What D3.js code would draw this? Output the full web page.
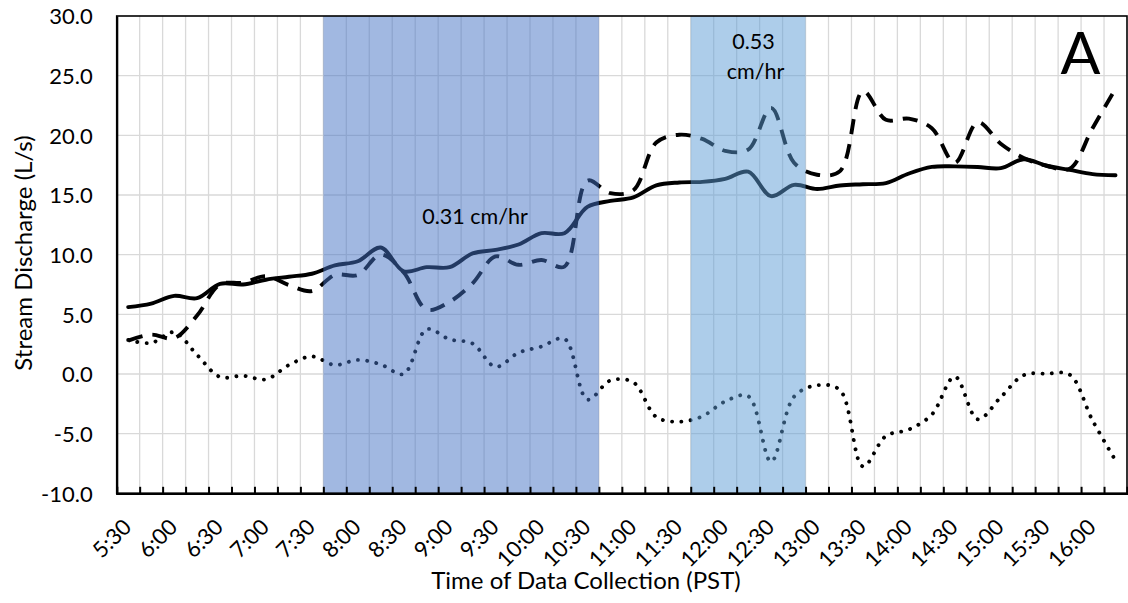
<!DOCTYPE html>
<html>
<head>
<meta charset="utf-8">
<script src="https://cdn.jsdelivr.net/npm/d3@7"></script>
<style>
  html, body { margin: 0; padding: 0; background: #fff; }
  svg { display: block; font-family: Lato, "Open Sans", sans-serif; }
</style>
</head>
<body>
<svg id="chart" width="1128" height="603"></svg>
<script>
// 15-minute sampling times (PST)
const times = [
  "5:30","5:45","6:00","6:15","6:30","6:45","7:00","7:15","7:30","7:45",
  "8:00","8:15","8:30","8:45","9:00","9:15","9:30","9:45","10:00","10:15",
  "10:30","10:45","11:00","11:15","11:30","11:45","12:00","12:15","12:30","12:45",
  "13:00","13:15","13:30","13:45","14:00","14:15","14:30","14:45","15:00","15:15",
  "15:30","15:45","16:00","16:15"
];

// Measured stream discharge (L/s), solid line
const measuredQ = [
  5.6, 5.9, 6.55, 6.35, 7.55, 7.5, 7.9, 8.15, 8.4, 9.1,
  9.45, 10.6, 8.6, 8.95, 8.95, 10.1, 10.4, 10.85, 11.8, 11.8,
  14.0, 14.5, 14.8, 15.8, 16.05, 16.1, 16.35, 16.95, 14.9, 15.85,
  15.5, 15.8, 15.9, 16.0, 16.8, 17.35, 17.4, 17.35, 17.25, 18.0,
  17.45, 17.1, 16.75, 16.65
];

// Modelled stream discharge (L/s), dashed line
const modelledQ = [
  2.8, 3.3, 3.0, 4.9, 7.5, 7.65, 8.2, 7.45, 6.95, 8.3,
  8.3, 10.0, 8.5, 5.4, 6.05, 7.6, 9.85, 9.15, 9.55, 9.0,
  16.2, 15.15, 15.4, 19.4, 20.05, 19.7, 18.7, 18.8, 22.3, 17.7,
  16.7, 17.0, 23.7, 21.3, 21.4, 20.6, 17.7, 21.1, 19.3, 18.1,
  17.45, 17.2, 20.6, 23.9
];

// Residual (L/s), dotted line
const residualQ = [
  2.85, 2.6, 3.5, 1.6, -0.25, -0.15, -0.45, 0.75, 1.47, 0.75,
  1.18, 0.8, 0.0, 3.75, 2.9, 2.55, 0.6, 1.78, 2.3, 2.95,
  -2.15, -0.55, -0.7, -3.6, -4.0, -3.55, -2.3, -1.85, -7.35, -1.9,
  -0.95, -1.35, -7.75, -5.2, -4.65, -3.4, -0.22, -3.8, -1.95, -0.1,
  0.02, -0.05, -3.9, -7.25
];

// Rainfall periods and intensities
const rainStart = ["7:45", "11:45"];
const rainEnd   = ["10:30", "12:45"];
const rainRate  = [["0.31 cm/hr"], ["0.53", "cm/hr"]];
const rainFill  = ["#4472C4", "#5B9BD5"];

const yTicks = [-10, -5, 0, 5, 10, 15, 20, 25, 30];

const plot = { left: 116.7, right: 1127, top: 16, bottom: 493.3 };
const FONT = "Lato, sans-serif";

const svg = d3.select("#chart");

const x = d3.scaleBand().domain(times).range([plot.left, plot.right]).padding(0);
const xEdge = d3.scaleLinear().domain([0, times.length]).range([plot.left, plot.right]);
const y = d3.scaleLinear().domain([-10, 30]).range([plot.bottom, plot.top]);
const xc = t => x(t) + x.bandwidth() / 2;

// Gridlines
const grid = svg.append("g").attr("stroke", "#d9d9d9").attr("stroke-width", 1.3);
grid.selectAll("line.v").data(d3.range(1, times.length)).join("line")
  .attr("x1", d => xEdge(d)).attr("x2", d => xEdge(d))
  .attr("y1", plot.top).attr("y2", plot.bottom);
grid.selectAll("line.h").data(yTicks.slice(1, -1)).join("line")
  .attr("x1", plot.left).attr("x2", plot.right)
  .attr("y1", d => y(d)).attr("y2", d => y(d));

// Series
const line = d3.line().x((d, i) => xc(times[i])).y(d => y(d)).curve(d3.curveCatmullRom.alpha(0.5));
const series = [
  { values: measuredQ, dash: null, cap: "round" },
  { values: modelledQ, dash: "15,10", cap: "butt" },
  { values: residualQ, dash: "0.01,9.3", cap: "round" }
];
svg.append("g").selectAll("path").data(series).join("path")
  .attr("d", s => line(s.values))
  .attr("fill", "none")
  .attr("stroke", "#000")
  .attr("stroke-width", 3.9)
  .attr("stroke-linecap", s => s.cap)
  .attr("stroke-linejoin", "round")
  .attr("stroke-dasharray", s => s.dash);

// Rainfall shading
svg.append("g").selectAll("rect").data(rainStart).join("rect")
  .attr("x", d => x(d))
  .attr("width", (d, i) => x(rainEnd[i]) + x.bandwidth() - x(d))
  .attr("y", plot.top)
  .attr("height", plot.bottom - plot.top)
  .attr("fill", (d, i) => rainFill[i])
  .attr("fill-opacity", 0.5);

// Rain intensity labels
const noteGroup = svg.append("g").attr("font-size", 21.5).attr("fill", "#000").attr("text-anchor", "middle");
noteGroup.append("text").attr("x", 475).attr("y", 224).text(rainRate[0][0]);
const n2 = noteGroup.append("text").attr("x", 754).attr("y", 48.5);
n2.append("tspan").attr("x", 753.5).text(rainRate[1][0]);
n2.append("tspan").attr("x", 755.5).attr("dy", 30).text(rainRate[1][1]);

// Panel letter
svg.append("text").attr("x", 1080.5).attr("y", 74).attr("text-anchor", "middle")
  .attr("font-size", 59).text("A");

// Plot border
svg.append("rect")
  .attr("x", plot.left).attr("y", plot.top)
  .attr("width", plot.right - plot.left).attr("height", plot.bottom - plot.top)
  .attr("fill", "none").attr("stroke", "#000").attr("stroke-width", 1.6);

// Y axis
const yAxis = svg.append("g").attr("transform", `translate(${plot.left},0)`)
  .call(d3.axisLeft(y).tickValues(yTicks).tickSize(0).tickPadding(24).tickFormat(d => d.toFixed(1)));
yAxis.select(".domain").attr("stroke", "#000").attr("stroke-width", 2.2);
yAxis.selectAll("text").attr("font-size", 22).attr("font-family", FONT).attr("fill", "#000").attr("dy", "0.36em");

// X axis: ticks at category boundaries
const xTicks = svg.append("g").attr("transform", `translate(0,${plot.bottom})`)
  .call(d3.axisBottom(xEdge).tickValues(d3.range(1, times.length)).tickSize(-6.5).tickFormat(""));
xTicks.select(".domain").attr("stroke", "#000").attr("stroke-width", 2.2);
xTicks.selectAll(".tick line").attr("stroke", "#000").attr("stroke-width", 2);

// X axis labels, every half hour, rotated
const xLabels = svg.append("g").attr("transform", `translate(0,${plot.bottom})`)
  .call(d3.axisBottom(x).tickValues(times.filter((t, i) => i % 2 === 0)).tickSize(0));
xLabels.select(".domain").remove();
xLabels.selectAll("text")
  .attr("font-size", 22).attr("font-family", FONT).attr("fill", "#000")
  .attr("x", 0).attr("y", 0).attr("dy", "0.36em")
  .attr("text-anchor", "end")
  .attr("transform", "translate(-1,29.5) rotate(-45)");

// Axis titles
svg.append("text").attr("x", 586).attr("y", 589).attr("text-anchor", "middle")
  .attr("font-size", 24).text("Time of Data Collection (PST)");
svg.append("text").attr("transform", "translate(32,253) rotate(-90)").attr("text-anchor", "middle")
  .attr("font-size", 24).text("Stream Discharge (L/s)");
</script>
</body>
</html>
